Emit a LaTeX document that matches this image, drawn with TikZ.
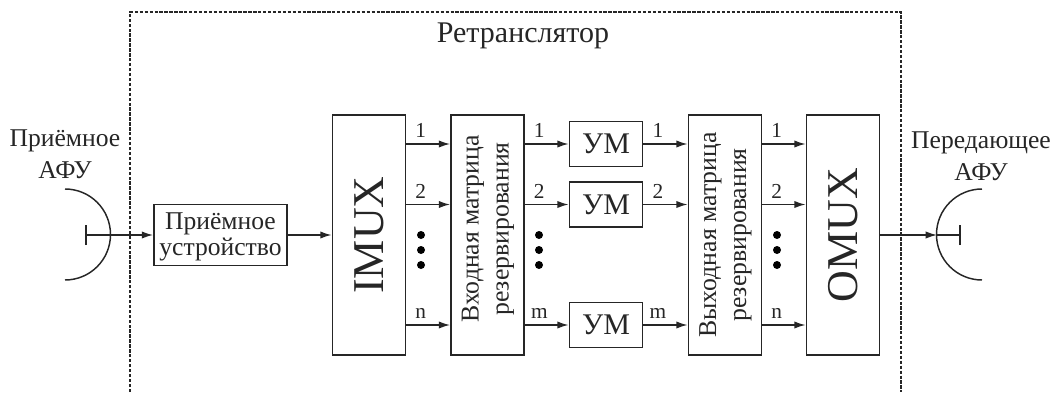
\documentclass[tikz,border=0pt]{standalone}
\usepackage{fontspec}
\setmainfont{Liberation Serif}
\usetikzlibrary{arrows.meta}

\newcommand{\vlabel}[1]{\rotatebox{90}{\begin{tabular}{@{}c@{}}#1\end{tabular}}}

\tikzset{
  line/.style={line width=1.1pt,color=black!85},
  link/.style={line,-{Latex[length=8.5pt,width=5.5pt]}},
  block/.style={line,draw,inner sep=0pt,align=center,text=black!85},
  tallblock/.style={block,minimum width=55pt,minimum height=180pt},
  bigfont/.style={font=\fontsize{33}{33}\selectfont},
  matfont/.style={font=\fontsize{19.3}{22.5}\selectfont},
  umblock/.style={block,minimum width=55pt,minimum height=34pt,font=\fontsize{22.5}{24}\selectfont},
  chan/.style={pos=.33,above=3pt,inner sep=1pt,font=\fontsize{16}{18}\selectfont,text=black!85},
  caption/.style={align=center,inner sep=0pt,font=\fontsize{19.2}{24}\selectfont,text=black!85}
}

\begin{document}
\begin{tikzpicture}[x=0.75pt,y=0.75pt]
\useasboundingbox (0,0) rectangle (1053,394);

\draw[line,line width=1pt,dash pattern=on 2.5pt off 1.2pt] (130,2)--(130,382)--(901,382)--(901,2);
\node[caption,font=\fontsize{22.5}{24}\selectfont] (title) at (523,358) {Ретранслятор};

\node[block,minimum width=100pt,minimum height=46pt,font=\fontsize{19.2}{20}\selectfont] (rx) at (220.5,159) {\raisebox{-1.5pt}[\height][\depth]{Приёмное}\\\raisebox{-1.5pt}[\height][\depth]{устройство}};
\node[tallblock,bigfont] (imux) at (369,159) {\rotatebox{90}{IMUX}};
\node[tallblock,matfont] (inmat) at (487.5,159) {\raisebox{4.5pt}[\height][\depth]{\vlabel{Входная матрица\\резервирования}}};
\node[umblock] (um1) at (606,250) {УМ};
\node[umblock] (um2) at (606,189.5) {УМ};
\node[umblock] (um3) at (606,69) {УМ};
\node[tallblock,matfont] (outmat) at (725,159) {\vlabel{Выходная матрица\\резервирования}};
\node[tallblock,bigfont] (omux) at (843,159) {\rotatebox{90}{OMUX}};

% channels
\foreach \row/\lin/\lmid in {um1/1/1,um2/2/2,um3/n/m}{
  \draw[link] (imux.east |- \row) -- node[chan] {\lin} (inmat.west |- \row);
  \draw[link] (inmat.east |- \row) -- node[chan] {\lmid} (\row.west);
  \draw[link] (\row.east) -- node[chan] {\lmid} (outmat.west |- \row);
  \draw[link] (outmat.east |- \row) -- node[chan] {\lin} (omux.west |- \row);
}

\foreach \x in {421,539,777}{
  \foreach \y in {159,144,129}
    \fill[black] (\x,\y) circle (4);
}

% antennas
\coordinate (rxfeed) at (86,159);
\coordinate (txdish) at (937,159);
\coordinate (txfeed) at (960,159);
\node[caption] (rxname) at (65,240) {Приёмное\\АФУ};
\node[caption] (txname) at (981,238) {Передающее\\АФУ};

\draw[line] (65,205) arc (90:-90:45.5);
\draw[line] (982,205) arc (90:270:45.5);
\draw[line] (86,149)--(86,169);
\draw[line] (960,149)--(960,169);

\draw[link] (rxfeed) -- (rx.west);
\draw[link] (rx.east) -- (imux.west);
\draw[link] (omux.east) -- (txdish);
\draw[line] (txdish) -- (txfeed);
\end{tikzpicture}
\end{document}
